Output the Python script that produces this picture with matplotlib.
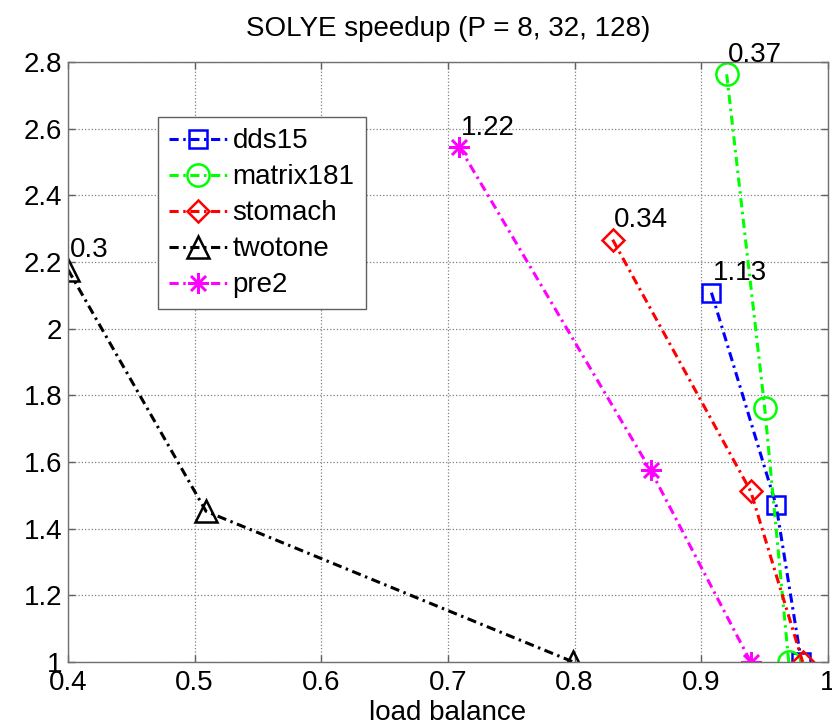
import matplotlib
matplotlib.use('Agg')
import matplotlib.pyplot as plt
from matplotlib.ticker import FuncFormatter, MultipleLocator

plt.rcParams['font.family'] = ['Liberation Sans', 'DejaVu Sans']

# data
names = ['dds15', 'matrix181', 'stomach', 'twotone', 'pre2']
dds15_x = [0.908, 0.959, 0.979]
dds15_y = [2.108, 1.471, 1.0]
matrix181_x = [0.920, 0.950, 0.969]
matrix181_y = [2.763, 1.763, 1.0]
stomach_x = [0.830, 0.939, 0.980]
stomach_y = [2.267, 1.512, 1.0]
twotone_x = [0.400, 0.509, 0.799]
twotone_y = [2.177, 1.452, 1.0]
pre2_x = [0.709, 0.860, 0.939]
pre2_y = [2.545, 1.575, 1.0]
labels = ['1.13', '0.37', '0.34', '0.3', '1.22']

xs = [dds15_x, matrix181_x, stomach_x, twotone_x, pre2_x]
ys = [dds15_y, matrix181_y, stomach_y, twotone_y, pre2_y]
colors = ['#0000ff', '#00ff00', '#ff0000', '#000000', '#ff00ff']
markers = ['s', 'o', 'D', '^', (8, 2, 0)]
msizes = [13, 16, 11, 16, 15]

fig = plt.figure(figsize=(8.32, 7.26), dpi=100)
ax = fig.add_axes([68 / 832, 64 / 726, 760 / 832, 600 / 726])

# matlab style dash-dot
dashdot = (0, (3.0, 1.5, 0.8, 1.5))
for x, y, c, m, ms, name in zip(xs, ys, colors, markers, msizes, names):
    ax.plot(x, y, linestyle=dashdot, color=c, lw=2.2, marker=m, ms=ms,
            mfc='none', mec=c, mew=1.8, label=name)

for x, y, t in zip(xs, ys, labels):
    ax.annotate(t, (x[0], y[0]), xytext=(1, 14), textcoords='offset points',
                ha='left', va='center', fontsize=20)

ax.set_xlim(0.4, 1.0)
ax.set_ylim(1.0, 2.8)
ax.xaxis.set_major_locator(MultipleLocator(0.1))
ax.yaxis.set_major_locator(MultipleLocator(0.2))
fmt = FuncFormatter(lambda v, p: '%g' % round(v, 2))
ax.xaxis.set_major_formatter(fmt)
ax.yaxis.set_major_formatter(fmt)

ax.grid(True, linestyle=':', color='#808080', lw=0.9)
ax.tick_params(direction='in', length=5, width=1, color='#606060',
               top=True, right=True, labelsize=20, pad=6)
ax.tick_params(axis='y', pad=4)
for s in ax.spines.values():
    s.set_color('#707070')
    s.set_linewidth(1)

ax.set_title('SOLYE speedup (P = 8, 32, 128)', fontsize=20, pad=19)
ax.set_xlabel('load balance', fontsize=20, labelpad=3)

leg = ax.legend(loc='upper left', bbox_to_anchor=(0.118, 0.908), fontsize=20,
                fancybox=False, framealpha=1, edgecolor='#606060',
                borderaxespad=0, handlelength=2.1, handletextpad=0.2,
                labelspacing=0.36, borderpad=0.4)
leg.get_frame().set_linewidth(1)

fig.savefig('out.png', dpi=100)
